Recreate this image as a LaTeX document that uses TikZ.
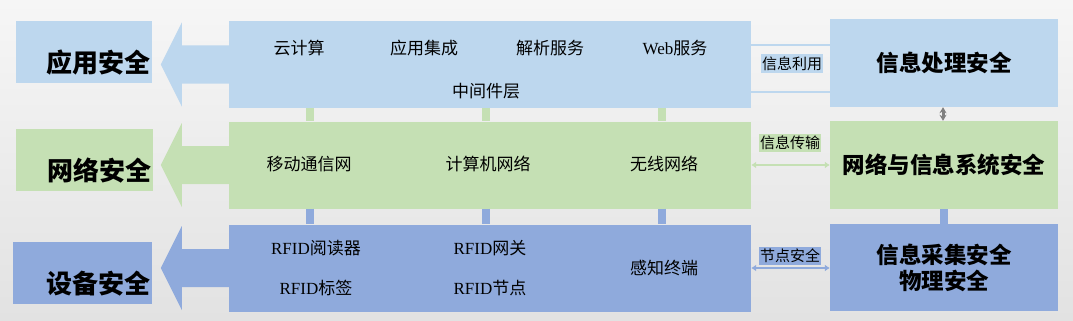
\documentclass[tikz,border=0pt]{standalone}
\usepackage{fontspec}
\usepackage{xcolor}
\usepackage{tikz}
\usetikzlibrary{arrows.meta,calc}
\newfontfamily\cjk{Noto Sans CJK SC}
\newfontfamily\lat{Liberation Serif}
\definecolor{appc}{RGB}{189,215,238}
\definecolor{netc}{RGB}{197,224,180}
\definecolor{devc}{RGB}{143,170,220}
\definecolor{bgtop}{RGB}{246,246,246}
\definecolor{bgbot}{RGB}{226,226,226}

\begin{document}
\begin{tikzpicture}[x=1pt,y=-1pt,font=\cjk\fontsize{17}{20}\selectfont,
 lb/.style={minimum width=136pt,minimum height=62pt,inner sep=0pt},
 lt/.style={font=\cjk\bfseries\fontsize{26}{30}\selectfont},
 mb/.style={minimum width=522pt,minimum height=87pt,inner sep=0pt},
 rb/.style={minimum width=228pt,minimum height=88pt,inner sep=0pt,align=center,font=\cjk\bfseries\fontsize{22.5}{26}\selectfont},
 tag/.style={inner xsep=1pt,inner ysep=2.5pt,font=\cjk\fontsize{15}{17}\selectfont},
 dbl/.style={{Latex[length=5pt,width=7pt]}-{Latex[length=5pt,width=7pt]},line width=1.5pt},
 bar/.style={line width=8pt}]
 \shade[top color=bgtop,bottom color=bgbot] (0,0) rectangle (1073,321);
 \node[lb,fill=appc] (appL) at (84,52) {};
 \node[lt] (appT) at (98,63) {应用安全};
 \node[lb,fill=netc,minimum width=137pt] (netL) at (84.5,160) {};
 \node[lt] (netT) at (99,171) {网络安全};
 \node[lb,fill=devc,minimum width=139pt] (devL) at (82.5,273) {};
 \node[lt] (devT) at (98,284) {设备安全};
 \node[mb,fill=appc] (appM) at (490,64.5) {};
 \node[mb,fill=netc] (netM) at (490,165) {};
 \node[mb,fill=devc] (devM) at (490,268) {};
 \foreach \r/\c in {app/appc,net/netc,dev/devc}
   \fill[\c] (\r M.west) ++(1,-19) -- ++(-48,0) -- ++(0,-23) -- ++(-21,42) -- ++(21,42) -- ++(0,-23) -- ++(48,0) -- cycle;
 \node (t1) at (299,48) {云计算};
 \node (t2) at (424,48) {应用集成};
 \node (t3) at (550,48) {解析服务};
 \node (t4) at (675,48) {{\lat Web}服务};
 \node (t5) at (486,91) {中间件层};
 \node (n1) at (309,164) {移动通信网};
 \node (n2) at (488,164) {计算机网络};
 \node (n3) at (664,164) {无线网络};
 \node (d1) at (316,248) {{\lat RFID}阅读器};
 \node (d2) at (316,288) {{\lat RFID}标签};
 \node (d3) at (490,248) {{\lat RFID}网关};
 \node (d4) at (490,288) {{\lat RFID}节点};
 \node (d5) at (664,268) {感知终端};
 \foreach \x in {310,486,662}{
   \draw[bar,netc] (appM.south -| \x,0) -- (netM.north -| \x,0);
   \draw[bar,devc] (netM.south -| \x,0) -- (devM.north -| \x,0);
 }
 \node[rb,fill=appc] (infoR) at (944,63) {信息处理安全};
 \node[rb,fill=netc] (sysR) at (944,165) {网络与信息系统安全};
 \node[rb,fill=devc,minimum height=87pt] (colR) at (944,267.5) {信息采集安全\\物理安全};
 \draw[{Stealth[length=6pt,width=7pt]}-{Stealth[length=6pt,width=7pt]},gray,line width=3pt] (infoR.south -| 943,0) -- (sysR.north -| 943,0);
 \draw[bar,devc] (sysR.south) -- (colR.north);
 \draw[appc,line width=2pt] (appM.east |- 0,45) -- (infoR.west |- 0,45);
 \draw[appc,line width=2pt] (appM.east |- 0,92) -- (infoR.west |- 0,92);
 \node[tag,fill=appc] (use) at (792,63.5) {信息利用};
 \draw[dbl,netc] (netM.east) -- (netM.east -| sysR.west);
 \node[tag,fill=netc] (trans) at (790,143) {信息传输};
 \draw[dbl,devc] (devM.east) -- (devM.east -| colR.west);
 \node[tag,fill=devc] (safe) at (790,256) {节点安全};
\end{tikzpicture}
\end{document}
